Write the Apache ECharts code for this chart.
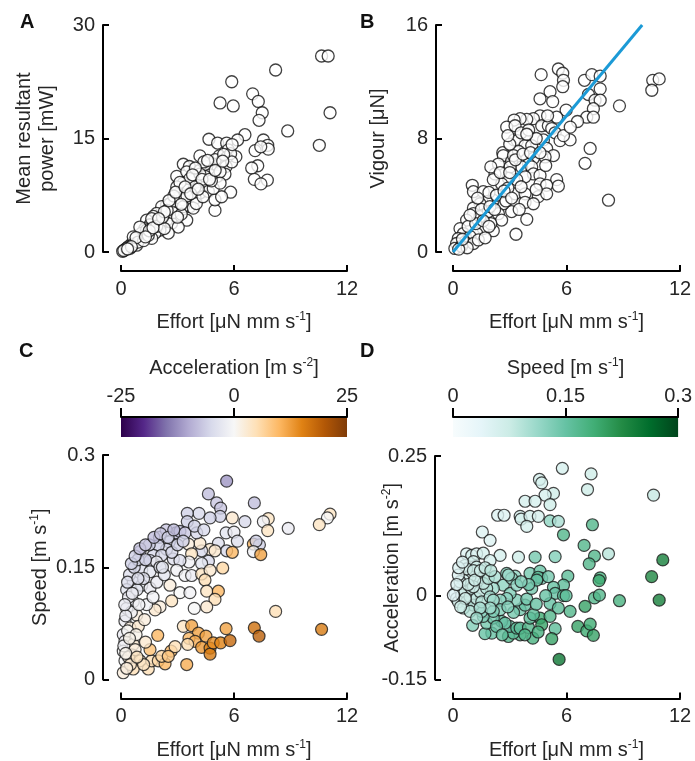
<!DOCTYPE html>
<html><head><meta charset="utf-8">
<script src="https://cdn.jsdelivr.net/npm/echarts@6/dist/echarts.min.js"></script>
<style>html,body{margin:0;padding:0;background:#fff}#c{width:695px;height:761px}</style>
</head><body><div id="c"></div>
<script>
// ---------- data ----------
const effortTicks = [0, 6, 12];
const powerTicks = [0, 15, 30];
const vigourTicks = [0, 8, 16];
const speedTicks = [0, 0.15, 0.3];
const accelTicks = [-0.15, 0, 0.25];
const accelColorTicks = [-25, 0, 25];
const speedColorTicks = [0, 0.15, 0.3];

// Panel A: [effort, mean resultant power]
const powerPoints = [
[10.65,25.9],[11.0,25.9],[8.21,24.05],[5.88,22.5],[11.1,18.4],[6.99,20.9],[7.29,19.9],[5.26,19.7],[5.96,19.3],[7.5,18.4],
[7.33,17.4],[8.85,16.0],[10.53,14.1],[6.58,15.5],[6.19,14.8],[7.56,14.8],[7.79,14.1],[7.82,13.6],[7.12,13.4],[7.42,13.9],
[7.26,11.4],[6.94,11.1],[7.08,9.6],[7.77,9.5],[7.43,9.0],[5.82,7.9],[4.99,5.5],[4.67,14.9],[5.13,14.4],[5.61,14.4],
[5.7,13.5],[6.1,12.6],[4.19,12.7],[5.22,12.7],[5.61,12.5],[5.82,13.0],[3.31,11.6],[3.63,11.3],[4.9,11.6],[5.29,11.9],
[5.58,11.3],[4.19,10.8],[4.55,11.3],[2.96,10.0],[3.49,10.6],[4.73,10.2],[5.12,10.0],[5.52,10.3],[3.84,9.5],[4.19,9.1],
[4.55,8.9],[3.31,9.1],[3.13,7.8],[3.58,8.2],[4.19,7.8],[4.64,8.0],[4.99,6.9],[5.34,7.3],[3.93,7.1],[3.66,6.0],
[2.42,6.2],[2.87,6.7],[3.22,6.9],[2.6,4.9],[2.96,5.6],[3.49,4.2],[2.16,6.0],[1.89,5.1],[1.72,4.7],[1.36,4.2],
[1.54,3.6],[1.27,3.1],[2.07,3.8],[2.42,4.2],[2.69,3.8],[3.04,3.3],[2.51,2.5],[2.07,2.9],[1.81,2.5],[1.63,1.8],
[1.1,2.5],[1.0,1.8],[0.74,1.6],[0.57,1.1],[0.39,0.7],[0.21,0.3],[0.09,0.1],[0.48,0.5],[0.83,0.9],[0.65,2.0],
[1.36,2.9],[2.96,8.6],[3.66,9.7],[3.13,9.2],[2.6,6.4],[3.31,6.0],[3.84,5.8],[4.46,10.0],[5.26,10.6],[5.88,11.9],
[4.9,8.4],[5.26,9.1],[4.19,10.3],[3.93,8.6],[1.63,4.4],[1.0,3.3],[0.3,0.5],[0.15,0.2],[0.6,0.9],[0.9,1.3],
[1.2,1.5],[1.45,2.2],[1.9,3.4],[2.3,3.1],[2.2,4.6],[2.75,5.2],[3.2,5.0],[3.5,7.4],[4.0,6.4],[4.35,7.3],
[4.8,9.4],[5.0,12.2],[5.45,12.9],[4.4,11.9],[3.95,11.1],[2.8,7.4],[2.45,5.5],[1.5,2.8],[0.8,1.9],
[1.7,3.2],[2.3,5.3],[2.55,6.8],[2.9,7.9],[3.4,8.6],[3.8,10.2],[4.3,9.6],[4.7,9.6],[5.0,10.8],[4.6,12.1],
[3.2,6.3],[3.7,7.7],[4.1,8.3],[2.0,4.4],[1.3,2.0],[0.55,0.7],[0.35,0.4],[5.4,12.0],[5.9,14.2],[3.0,4.6]
];

// Panel B: [effort, vigour]
const vigourPoints = [
[5.57,12.9],[5.8,12.6],[5.84,12.1],[5.8,11.65],[4.66,12.5],[6.95,12.1],[7.34,12.5],[7.78,12.4],[10.56,12.1],[10.9,12.2],
[10.51,11.4],[7.78,11.5],[7.16,11.1],[7.51,10.7],[7.78,10.7],[5.13,11.3],[4.6,10.8],[5.27,10.6],[7.42,10.1],[8.8,10.3],
[7.07,9.5],[7.42,9.5],[6.58,9.2],[5.98,10.0],[5.48,9.5],[4.6,9.6],[4.25,9.4],[3.9,9.35],[3.55,9.4],[3.23,9.3],
[2.84,8.8],[3.28,8.9],[4.69,8.9],[5.04,8.9],[5.22,8.7],[5.4,8.4],[5.66,7.85],[6.19,7.9],[5.84,8.2],[3.23,7.9],
[3.4,7.85],[3.81,7.5],[4.16,7.5],[4.78,7.9],[4.95,7.3],[5.31,6.8],[4.87,6.7],[3.46,7.1],[2.63,7.0],[2.66,6.8],
[7.25,7.3],[6.98,6.25],[8.22,3.65],[4.25,6.6],[3.99,6.2],[3.63,6.0],[4.16,6.0],[3.1,6.4],[3.02,6.0],[2.4,6.2],
[2.22,5.5],[4.25,5.5],[4.6,5.4],[5.48,5.1],[5.57,4.65],[4.6,4.8],[4.95,4.7],[3.81,5.3],[3.37,5.1],[2.93,5.2],
[2.57,4.8],[2.13,5.1],[1.02,4.7],[1.08,4.25],[1.6,4.25],[3.28,4.1],[3.81,4.1],[4.51,3.9],[4.95,4.1],[3.81,3.5],
[4.25,3.4],[3.1,2.85],[2.66,3.4],[2.13,3.65],[1.78,3.55],[1.43,3.4],[1.08,3.1],[1.08,2.7],[1.43,2.5],[1.87,2.85],
[2.4,2.7],[3.9,2.3],[3.33,1.25],[2.57,2.25],[2.13,1.5],[1.6,1.65],[1.25,1.3],[0.72,2.25],[0.37,1.65],[0.55,1.3],
[0.28,0.95],[0.9,1.1],[0.63,0.7],[0.19,0.6],[0.1,0.25],[1.08,0.6],[1.34,0.85],[1.9,4.2],[2.3,4.0],[2.9,4.5],
[2.0,6.0],[3.0,7.6],[3.6,8.4],[4.0,8.6],[2.5,5.6],[1.5,3.0],[0.8,1.8],[0.45,0.4],[0.75,0.3],[1.7,1.0],
[2.8,3.6],[3.5,3.0],[4.4,4.4],[3.2,6.8],[4.4,8.0],[2.0,2.0],[1.2,2.0],[0.3,0.2],[1.95,3.2],
[1.3,3.8],[1.6,2.2],[2.2,3.0],[2.7,4.3],[3.0,5.6],[3.3,6.5],[3.7,6.9],[4.1,7.0],[4.6,7.0],[3.1,3.8],
[0.5,0.9],[0.9,2.6],[2.9,8.2],[3.9,8.3],[4.9,6.1],[5.0,9.6],[6.2,8.8],[3.6,4.6],[1.9,1.8]
];
// Panel B fitted line end points [effort, vigour]
const vigourFitLine = [[0, 0], [10, 16]];

// Panel C: [effort, speed, acceleration]
const speedPoints = [
[5.61,0.265,-12],[4.64,0.248,-8],[5.08,0.236,-7],[5.29,0.229,-7],[7.08,0.236,-8],[11.1,0.221,4],[10.96,0.216,0],[10.53,0.207,4],
[7.82,0.215,4],[7.56,0.211,-1],[7.79,0.199,4],[8.88,0.202,-2],[6.58,0.211,-5],[5.91,0.216,3],[5.26,0.218,-6],[4.73,0.216,-6],
[4.14,0.222,-5],[3.52,0.222,-6],[3.52,0.211,-6],[5.58,0.196,-3],[6.0,0.197,-2],[6.18,0.185,-4],[7.03,0.181,10],[7.35,0.180,-6],
[7.17,0.185,-6],[7.03,0.171,-1],[7.42,0.167,12],[5.17,0.182,-4],[5.61,0.172,-5],[5.91,0.170,10],[4.73,0.174,3],[4.99,0.172,3],
[4.28,0.172,-5],[4.19,0.182,3],[3.58,0.181,2],[3.75,0.168,4],[4.64,0.158,-5],[4.28,0.155,-3],[3.61,0.157,-1],[2.92,0.196,-8],
[3.13,0.198,-8],[3.4,0.196,-7],[4.02,0.196,-5],[2.57,0.184,-6],[2.04,0.19,-7],[2.42,0.174,-5],[1.01,0.171,-7],[1.98,0.179,-6],
[1.72,0.166,-5],[2.16,0.166,-5],[1.54,0.159,-5],[1.89,0.157,-2],[2.78,0.161,-4],[3.13,0.159,-4],[2.96,0.146,-1],[3.4,0.139,-1],
[3.75,0.139,-2],[4.28,0.141,4],[4.73,0.146,3],[4.46,0.133,5],[5.4,0.149,6],[1.1,0.146,-4],[1.54,0.144,-3],[2.07,0.150,-3],
[0.65,0.130,-3],[1.1,0.126,-3],[1.54,0.122,-2],[2.6,0.126,2],[3.13,0.116,0],[4.55,0.118,4],[5.17,0.118,10],[4.99,0.107,5],
[4.55,0.097,3],[3.89,0.095,0],[2.69,0.105,4],[2.07,0.097,2],[1.81,0.093,3],[1.36,0.100,-1],[0.65,0.104,-2],[0.3,0.095,-2],
[0.83,0.086,2],[0.21,0.078,-2],[0.48,0.069,2],[0.92,0.071,3],[0.12,0.060,-2],[0.21,0.051,-1],[0.65,0.047,3],[0.12,0.038,0],
[0.57,0.033,3],[1.01,0.025,4],[0.21,0.025,0],[0.12,0.009,2],[0.65,0.014,5],[1.45,0.014,5],[1.63,0.025,5],[1.98,0.025,6],
[2.34,0.021,10],[2.16,0.031,6],[1.54,0.040,9],[2.66,0.038,10],[2.87,0.044,5],[2.51,0.031,8],[3.49,0.020,11],[3.31,0.071,4],
[3.75,0.072,12],[4.11,0.062,12],[4.51,0.058,12],[3.61,0.055,10],[3.93,0.051,11],[3.54,0.047,5],[4.28,0.043,13],[4.73,0.042,15],
[4.73,0.034,16],[4.9,0.049,14],[5.29,0.049,15],[5.79,0.052,18],[5.58,0.068,12],[7.08,0.069,17],[7.33,0.058,19],[8.21,0.091,5],
[10.65,0.067,16],[1.95,0.059,10],[3.66,0.116,-1],[0.3,0.12,-3],[0.45,0.14,-4],[0.7,0.15,-5],[0.9,0.16,-5],[0.4,0.11,-2],
[0.55,0.09,-1],[0.35,0.065,0],[0.15,0.045,-1],[0.4,0.03,2],[0.8,0.06,1],[1.2,0.135,-4],[1.3,0.16,-6],[0.85,0.12,-3],
[1.9,0.13,-2],[2.3,0.14,-3],[1.7,0.11,-1],[1.25,0.08,2],[0.95,0.1,-1],[0.5,0.02,3],[1.2,0.02,4],[0.75,0.04,2],
[2.4,0.2,-7],[2.7,0.17,-5],[2.2,0.15,-3],[0.25,0.085,-2],[1.5,0.18,-6],[3.0,0.18,-6],
[0.2,0.1,-2],[0.35,0.13,-4],[0.55,0.155,-6],[0.75,0.165,-6],[1.0,0.175,-7],[1.3,0.18,-7],[1.75,0.19,-8],[2.1,0.195,-7],
[0.6,0.115,-2],[0.9,0.135,-4],[0.25,0.035,1],[0.45,0.055,1],[0.3,0.015,2],[0.85,0.03,4],[1.3,0.05,3],[2.5,0.19,-6],
[2.8,0.2,-8],[3.3,0.185,-6],[3.9,0.205,-6],[4.4,0.2,-5]
];

// Panel D: [effort, acceleration, speed]
const accelPoints = [
[5.78,0.228,0.06],[7.3,0.218,0.07],[4.57,0.208,0.06],[4.69,0.202,0.06],[7.11,0.190,0.07],[10.6,0.180,0.08],[5.31,0.183,0.07],[4.87,0.18,0.06],
[5.13,0.163,0.07],[3.81,0.169,0.06],[4.34,0.169,0.06],[2.36,0.144,0.05],[2.7,0.144,0.05],[3.55,0.142,0.06],[3.6,0.137,0.06],[4.07,0.142,0.06],
[4.51,0.142,0.06],[3.9,0.124,0.06],[5.13,0.134,0.12],[5.57,0.133,0.1],[7.37,0.127,0.17],[5.84,0.109,0.17],[1.55,0.114,0.05],[1.96,0.099,0.05],
[6.93,0.090,0.17],[8.22,0.075,0.09],[7.48,0.071,0.17],[7.2,0.057,0.17],[11.09,0.064,0.24],[5.4,0.070,0.13],[4.34,0.069,0.14],[0.72,0.075,0.05],
[0.99,0.072,0.06],[1.25,0.075,0.05],[1.6,0.076,0.06],[2.49,0.072,0.06],[3.46,0.069,0.07],[1.96,0.063,0.06],[0.63,0.054,0.06],[1.08,0.061,0.06],
[1.25,0.051,0.07],[2.84,0.040,0.13],[3.28,0.035,0.12],[4.07,0.040,0.14],[4.6,0.044,0.15],[4.69,0.031,0.14],[4.5,0.033,0.16],[5.04,0.034,0.14],
[6.07,0.035,0.16],[5.84,0.019,0.16],[7.78,0.032,0.18],[7.72,0.027,0.19],[10.5,0.034,0.23],[2.66,0.019,0.12],[2.13,0.013,0.11],[5.31,0.015,0.15],
[5.4,0.004,0.15],[5.84,0.0,0.16],[5.98,0.0,0.16],[7.48,-0.004,0.17],[7.74,0.001,0.17],[8.8,-0.009,0.18],[10.9,-0.008,0.24],[6.98,-0.019,0.2],
[6.19,-0.028,0.17],[5.13,-0.014,0.15],[5.57,-0.022,0.16],[4.6,-0.040,0.19],[5.13,-0.037,0.17],[5.4,-0.059,0.16],[5.22,-0.077,0.2],[4.69,-0.052,0.2],
[6.6,-0.055,0.2],[7.07,-0.063,0.19],[7.42,-0.071,0.2],[7.25,-0.051,0.19],[5.61,-0.114,0.25],[4.22,-0.076,0.18],[3.55,-0.070,0.17],[2.93,-0.073,0.17],
[3.19,-0.067,0.16],[2.05,-0.067,0.15],[1.69,-0.068,0.15],[1.04,-0.053,0.13],[3.0,-0.055,0.15],[3.37,-0.058,0.16],[3.55,-0.058,0.16],[3.99,-0.057,0.17],
[2.57,-0.046,0.15],[2.75,-0.049,0.15],[1.78,-0.049,0.14],[2.13,-0.040,0.14],[1.6,-0.037,0.13],[1.52,-0.028,0.12],[4.07,-0.040,0.16],[4.25,-0.034,0.16],
[3.55,-0.025,0.14],[3.81,-0.017,0.15],[3.37,-0.008,0.13],[3.9,-0.006,0.14],[4.16,0.013,0.14],[4.43,0.028,0.15],[3.02,0.004,0.13],[2.84,-0.005,0.12],
[2.49,-0.008,0.12],[2.49,-0.025,0.13],[2.13,-0.028,0.13],[0.11,0.004,0.05],[0.19,-0.005,0.06],[0.28,-0.011,0.06],[0.37,0.013,0.05],[0.46,0.001,0.06],
[0.63,0.007,0.07],[0.72,-0.011,0.07],[0.9,-0.002,0.08],[0.99,0.013,0.07],[1.08,-0.017,0.09],[1.25,-0.005,0.08],[1.43,0.007,0.08],[1.52,-0.011,0.09],
[1.78,0.013,0.09],[1.96,-0.002,0.1],[2.13,-0.008,0.11],[1.34,0.031,0.07],[1.6,0.022,0.08],[0.9,0.034,0.06],[0.55,0.028,0.06],[1.08,0.016,0.07],
[1.87,0.031,0.09],[2.22,0.034,0.1],[0.37,0.025,0.05],[1.96,-0.022,0.11],[3.1,0.031,0.12],[3.37,0.019,0.12],[2.93,0.037,0.11],[0.72,0.048,0.06],
[1.08,0.045,0.07],[0.28,0.037,0.05],[0.02,0.001,0.04],[0.55,-0.022,0.08],[0.9,-0.028,0.09],[1.43,-0.022,0.1],[1.25,-0.04,0.11],
[0.3,0.05,0.05],[0.5,0.06,0.05],[0.8,0.02,0.07],[1.15,0.028,0.07],[1.45,0.045,0.07],[0.65,-0.005,0.07],[0.4,-0.02,0.07],[1.7,0.05,0.08],
[2.0,0.045,0.09],[0.2,0.02,0.05],[2.3,-0.055,0.15],[2.6,-0.07,0.16],[3.8,-0.07,0.17],[4.5,-0.065,0.18],[3.2,-0.03,0.14],[2.9,-0.02,0.13],
[4.4,-0.015,0.15],[4.9,0.0,0.15],[4.0,0.02,0.14],[3.6,0.025,0.13]
];

// colour maps
const puOr = ['#2d004b','#542788','#8073ac','#b2abd2','#d8daeb','#f7f7f7','#fee0b6','#fdb863','#e08214','#b35806','#7f3b08'];
const buGn = ['#f7fcfd','#e5f5f9','#ccece6','#99d8c9','#66c2a4','#41ae76','#238b45','#006d2c','#00441b'];

// ---------- chart ----------
const FONT = 'Liberation Sans, Arial, sans-serif';
const TXT = '#262626';
const rich = {
  t: {fontSize: 20, fontFamily: FONT, color: TXT, lineHeight: 23},
  s: {fontSize: 12, fontFamily: FONT, color: TXT, verticalAlign: 'top', lineHeight: 23}
};
function valueAxis(o) {
  return Object.assign({
    type: 'value',
    axisLine: {show: true, onZero: false, lineStyle: {color: '#000', width: 2}},
    axisTick: {show: true, inside: true, length: 6, lineStyle: {color: '#000', width: 2}},
    axisLabel: {color: TXT, fontSize: 20, fontFamily: FONT, margin: 8},
    splitLine: {show: false},
    nameLocation: 'middle',
    nameMoveOverlap: false,
    nameTextStyle: {rich: rich, align: 'center'}
  }, o);
}
function gradStops(cols) {
  return cols.map((c, i) => ({offset: i / (cols.length - 1), color: c}));
}
function colorbarSeries(axisIdx, range, cols) {
  return {
    type: 'custom', xAxisIndex: axisIdx, yAxisIndex: axisIdx, silent: true,
    data: [range],
    renderItem: function (params, api) {
      const p0 = api.coord([api.value(0), 1]);
      const p1 = api.coord([api.value(1), 0]);
      return {type: 'rect', shape: {x: p0[0], y: p0[1], width: p1[0] - p0[0], height: p1[1] - p0[1]},
        style: {fill: new echarts.graphic.LinearGradient(0, 0, 1, 0, gradStops(cols))}};
    }
  };
}
const effortName = '{t|Effort [μN mm s}{s|-1}{t|]}';
const openCircle = {color: '#fff', borderColor: '#111', borderWidth: 1.3};
const filledCircle = {borderColor: '#1a1a1a', borderWidth: 1.2};
const barTick = {show: true, inside: false, length: 9, lineStyle: {color: '#000', width: 2}};
const barLabel = {color: TXT, fontSize: 20, fontFamily: FONT, margin: 11};

const chart = echarts.init(document.getElementById('c'), null, {renderer: 'canvas'});
chart.setOption({
  animation: false,
  backgroundColor: '#fff',
  title: [
    {text: 'A', left: 15, top: 7},
    {text: 'B', left: 355, top: 7},
    {text: 'C', left: 14, top: 336},
    {text: 'D', left: 355, top: 336}
  ].map(t => Object.assign(t, {textStyle: {fontSize: 20, fontWeight: 'bold', color: '#111', fontFamily: FONT}})),
  grid: [
    {left: 121, top: 25, width: 226, height: 227},
    {left: 453, top: 25, width: 227, height: 227},
    {left: 121, top: 455, width: 226, height: 227},
    {left: 453, top: 456, width: 227, height: 226},
    {left: 121, top: 418, width: 226, height: 19},
    {left: 453, top: 418, width: 227, height: 19}
  ],
  xAxis: [
    valueAxis({gridIndex: 0, min: 0, max: 12, interval: 6, offset: 19, name: effortName, nameGap: 40}),
    valueAxis({gridIndex: 1, min: 0, max: 12, interval: 6, offset: 19, name: effortName, nameGap: 40}),
    valueAxis({gridIndex: 2, min: 0, max: 12, interval: 6, offset: 19, name: effortName, nameGap: 40}),
    valueAxis({gridIndex: 3, min: 0, max: 12, interval: 6, offset: 19, name: effortName, nameGap: 40}),
    valueAxis({gridIndex: 4, min: -25, max: 25, interval: 25, position: 'top', offset: 1,
      axisTick: barTick, axisLabel: barLabel,
      name: '{t|Acceleration [m s}{s|-2}{t|]}', nameGap: 37}),
    valueAxis({gridIndex: 5, min: 0, max: 0.3, interval: 0.15, position: 'top', offset: 1,
      axisTick: barTick, axisLabel: barLabel,
      name: '{t|Speed [m s}{s|-1}{t|]}', nameGap: 37})
  ],
  yAxis: [
    valueAxis({gridIndex: 0, min: 0, max: 30, interval: 15, offset: 18, nameRotate: 90,
      name: '{t|Mean resultant}\n{t|power [mW]}', nameGap: 44}),
    valueAxis({gridIndex: 1, min: 0, max: 16, interval: 8, offset: 17, nameRotate: 90,
      name: '{t|Vigour [μN]}', nameGap: 46}),
    valueAxis({gridIndex: 2, min: 0, max: 0.3, interval: 0.15, offset: 18, nameRotate: 90,
      name: '{t|Speed [m s}{s|-1}{t|]}', nameGap: 51}),
    valueAxis({gridIndex: 3, min: -0.15, max: 0.25, offset: 18, nameRotate: 90,
      axisTick: {show: true, inside: true, length: 6, lineStyle: {color: '#000', width: 2}, customValues: accelTicks},
      axisLabel: {color: TXT, fontSize: 20, fontFamily: FONT, margin: 8, customValues: accelTicks},
      name: '{t|Acceleration [m s}{s|-2}{t|]}', nameGap: 31}),
    {type: 'value', gridIndex: 4, min: 0, max: 1, show: false},
    {type: 'value', gridIndex: 5, min: 0, max: 1, show: false}
  ],
  visualMap: [
    {type: 'continuous', show: false, seriesIndex: 3, dimension: 2, min: -25, max: 25, inRange: {color: puOr}},
    {type: 'continuous', show: false, seriesIndex: 4, dimension: 2, min: 0, max: 0.3, inRange: {color: buGn}}
  ],
  series: [
    {type: 'scatter', xAxisIndex: 0, yAxisIndex: 0, data: powerPoints, symbolSize: 12, itemStyle: openCircle},
    {type: 'scatter', xAxisIndex: 1, yAxisIndex: 1, data: vigourPoints, symbolSize: 12, itemStyle: openCircle},
    {type: 'line', xAxisIndex: 1, yAxisIndex: 1, data: vigourFitLine, symbol: 'none', z: 5,
      lineStyle: {color: '#1b9ad6', width: 3}},
    {type: 'scatter', xAxisIndex: 2, yAxisIndex: 2, data: speedPoints, symbolSize: 12, itemStyle: filledCircle},
    {type: 'scatter', xAxisIndex: 3, yAxisIndex: 3, data: accelPoints, symbolSize: 12, itemStyle: filledCircle},
    colorbarSeries(4, [accelColorTicks[0], accelColorTicks[2]], puOr),
    colorbarSeries(5, [speedColorTicks[0], speedColorTicks[2]], buGn)
  ]
});
</script>
</body></html>
